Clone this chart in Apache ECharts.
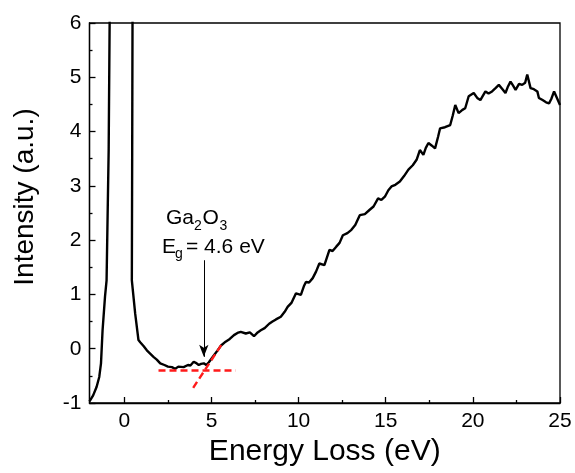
<!DOCTYPE html>
<html>
<head>
<meta charset="utf-8">
<script src="https://cdn.jsdelivr.net/npm/echarts@6/dist/echarts.min.js"></script>
<style>
  html, body { margin: 0; padding: 0; background: #fff; }
  #chart { width: 575px; height: 473px; }
</style>
</head>
<body>
<div id="chart"></div>
<script>
// EELS spectrum
const energy = [
  -2, -1.79, -1.59, -1.44, -1.34, -1.25, -1.11, -1.02, -0.9, -0.84, -0.2, 0.47, 0.45, 0.43,
  0.62, 0.81, 0.91, 1.1, 1.29, 1.48, 1.67, 1.86, 2.06, 2.3, 2.5, 2.73, 2.92, 3.1, 3.21, 3.4,
  3.5, 3.65, 3.79, 3.98, 4.1, 4.27, 4.4, 4.56, 4.7, 4.85, 5.1, 5.33, 5.55, 5.81, 6.05, 6.29,
  6.49, 6.68, 6.97, 7.2, 7.44, 7.65, 7.83, 8.05, 8.31, 8.5, 8.7, 8.98, 9.2, 9.37, 9.6, 9.85,
  10.13, 10.3, 10.42, 10.6, 10.81, 11.0, 11.19, 11.48, 11.77, 11.95, 12.16, 12.35, 12.54,
  12.8, 13.03, 13.25, 13.51, 13.8, 14.08, 14.3, 14.56, 14.75, 14.95, 15.15, 15.33, 15.55,
  15.81, 16.05, 16.3, 16.55, 16.77, 16.96, 17.16, 17.3, 17.45, 17.65, 17.83, 18.0, 18.12,
  18.4, 18.7, 18.85, 18.99, 19.18, 19.4, 19.56, 19.76, 20.05, 20.25, 20.43, 20.72, 20.9,
  21.1, 21.3, 21.49, 21.7, 21.87, 22.0, 22.16, 22.3, 22.45, 22.65, 22.83, 23.0, 23.12,
  23.31, 23.5, 23.7, 23.79, 24.0, 24.2, 24.37, 24.5, 24.66, 24.85, 25.0
];
const intensity = [
  -0.97, -0.86, -0.70, -0.52, -0.27, 0.34, 0.96, 1.26, 3.66, 6.2, 40, 6.2, 3.66, 1.26,
  0.65, 0.16, 0.12, 0.05, -0.03, -0.09, -0.15, -0.2, -0.27, -0.3, -0.33, -0.34, -0.37, -0.33, -0.30, -0.34,
  -0.33, -0.30, -0.31, -0.24, -0.26, -0.30, -0.28, -0.27, -0.30, -0.25, -0.14, -0.04, 0.06, 0.13, 0.18, 0.25,
  0.29, 0.31, 0.28, 0.30, 0.23, 0.30, 0.34, 0.38, 0.46, 0.50, 0.54, 0.59, 0.68, 0.77, 0.85, 1.02,
  0.99, 1.15, 1.23, 1.22, 1.30, 1.42, 1.57, 1.54, 1.82, 1.80, 1.88, 1.95, 2.09,
  2.13, 2.19, 2.28, 2.46, 2.48, 2.56, 2.62, 2.77, 2.74, 2.80, 2.92, 2.99, 3.02,
  3.08, 3.18, 3.30, 3.38, 3.48, 3.66, 3.57, 3.70, 3.79, 3.74, 3.69, 3.90, 4.06,
  4.08, 4.12, 4.30, 4.49, 4.34, 4.40, 4.43, 4.65, 4.71, 4.62, 4.58, 4.74, 4.70,
  4.74, 4.80, 4.86, 4.78, 4.71, 4.82, 4.92, 4.85, 4.77, 4.88, 4.86, 4.90, 5.05,
  4.80, 4.78, 4.74, 4.62, 4.58, 4.54, 4.52, 4.60, 4.74, 4.60, 4.49
];

// band gap extrapolation lines
const baselineFit = [[1.96, -0.40], [6.39, -0.40]];
const onsetFit = [[3.95, -0.72], [5.65, 0.11]];
const gapArrow = [[4.56, 1.63], [4.56, -0.15]];

const xMajorTicks = [0, 5, 10, 15, 20, 25];
const xMinorTicks = [2.5, 7.5, 12.5, 17.5, 22.5];

const FONT = '"Liberation Sans", Arial, sans-serif';

const chart = echarts.init(document.getElementById('chart'));

const spectrum = energy.map((e, i) => [e, intensity[i]]);

chart.setOption({
  animation: false,
  grid: {
    left: 89.5, right: 15, top: 23, bottom: 70,
    show: true, borderColor: '#000', borderWidth: 1.3
  },
  xAxis: [
    {
      type: 'value', min: -2, max: 25,
      name: 'Energy Loss (eV)', nameLocation: 'middle', nameGap: 34,
      nameTextStyle: { fontFamily: FONT, fontSize: 30, color: '#000' },
      axisLine: { onZero: false, lineStyle: { color: '#000', width: 1.3 } },
      axisTick: { inside: true, length: 6, customValues: xMajorTicks, lineStyle: { color: '#000', width: 1.3 } },
      axisLabel: { customValues: xMajorTicks, margin: 8, fontFamily: FONT, fontSize: 21, color: '#000' },
      splitLine: { show: false }
    },
    {
      type: 'value', min: -2, max: 25, position: 'bottom',
      axisLine: { show: false, onZero: false },
      axisTick: { inside: true, length: 3, customValues: xMinorTicks, lineStyle: { color: '#000', width: 1.3 } },
      axisLabel: { show: false },
      splitLine: { show: false }
    }
  ],
  yAxis: {
    type: 'value', min: -1, max: 6, interval: 1,
    axisLine: { show: true, onZero: false, lineStyle: { color: '#000', width: 1.3 } },
    axisTick: { show: true, inside: true, length: 6, lineStyle: { color: '#000', width: 1.3 } },
    minorTick: { show: true, splitNumber: 2, length: 3, lineStyle: { color: '#000', width: 1.3 } },
    axisLabel: { margin: 8, fontFamily: FONT, fontSize: 21, color: '#000' },
    splitLine: { show: false }
  },
  graphic: [
    {
      type: 'text', x: 25, y: 197, rotation: Math.PI / 2,
      style: { text: 'Intensity (a.u.)', font: '28px ' + FONT, fill: '#000', align: 'center', verticalAlign: 'middle' }
    },
    { type: 'text', x: 166, y: 218, style: { text: 'Ga', font: '21px ' + FONT, fill: '#000', verticalAlign: 'middle' } },
    { type: 'text', x: 194, y: 226, style: { text: '2', font: '14px ' + FONT, fill: '#000', verticalAlign: 'middle' } },
    { type: 'text', x: 202.5, y: 218, style: { text: 'O', font: '21px ' + FONT, fill: '#000', verticalAlign: 'middle' } },
    { type: 'text', x: 219.5, y: 226, style: { text: '3', font: '14px ' + FONT, fill: '#000', verticalAlign: 'middle' } },
    { type: 'text', x: 162, y: 247, style: { text: 'E', font: '21px ' + FONT, fill: '#000', verticalAlign: 'middle' } },
    { type: 'text', x: 175, y: 254, style: { text: 'g', font: '14px ' + FONT, fill: '#000', verticalAlign: 'middle' } },
    { type: 'text', x: 186, y: 247, style: { text: '= 4.6 eV', font: '21px ' + FONT, fill: '#000', verticalAlign: 'middle' } }
  ],
  series: [
    {
      type: 'line', data: spectrum, showSymbol: false, clip: true, z: 3,
      lineStyle: { color: '#000', width: 2.4 }
    },
    {
      type: 'line', data: baselineFit, showSymbol: false, z: 4,
      lineStyle: { color: '#ff1a1a', width: 2.4, type: [7, 4] }
    },
    {
      type: 'line', data: onsetFit, showSymbol: false, z: 4,
      lineStyle: { color: '#ff1a1a', width: 2.4, type: [7, 4] }
    },
    {
      type: 'line', data: [], z: 5,
      markLine: {
        silent: true, animation: false,
        label: { show: false },
        lineStyle: { color: '#000', width: 1, type: 'solid' },
        data: [[
          { coord: gapArrow[0], symbol: 'none' },
          { coord: gapArrow[1], symbol: 'arrow', symbolSize: [7, 12] }
        ]]
      }
    }
  ]
});
</script>
</body>
</html>
